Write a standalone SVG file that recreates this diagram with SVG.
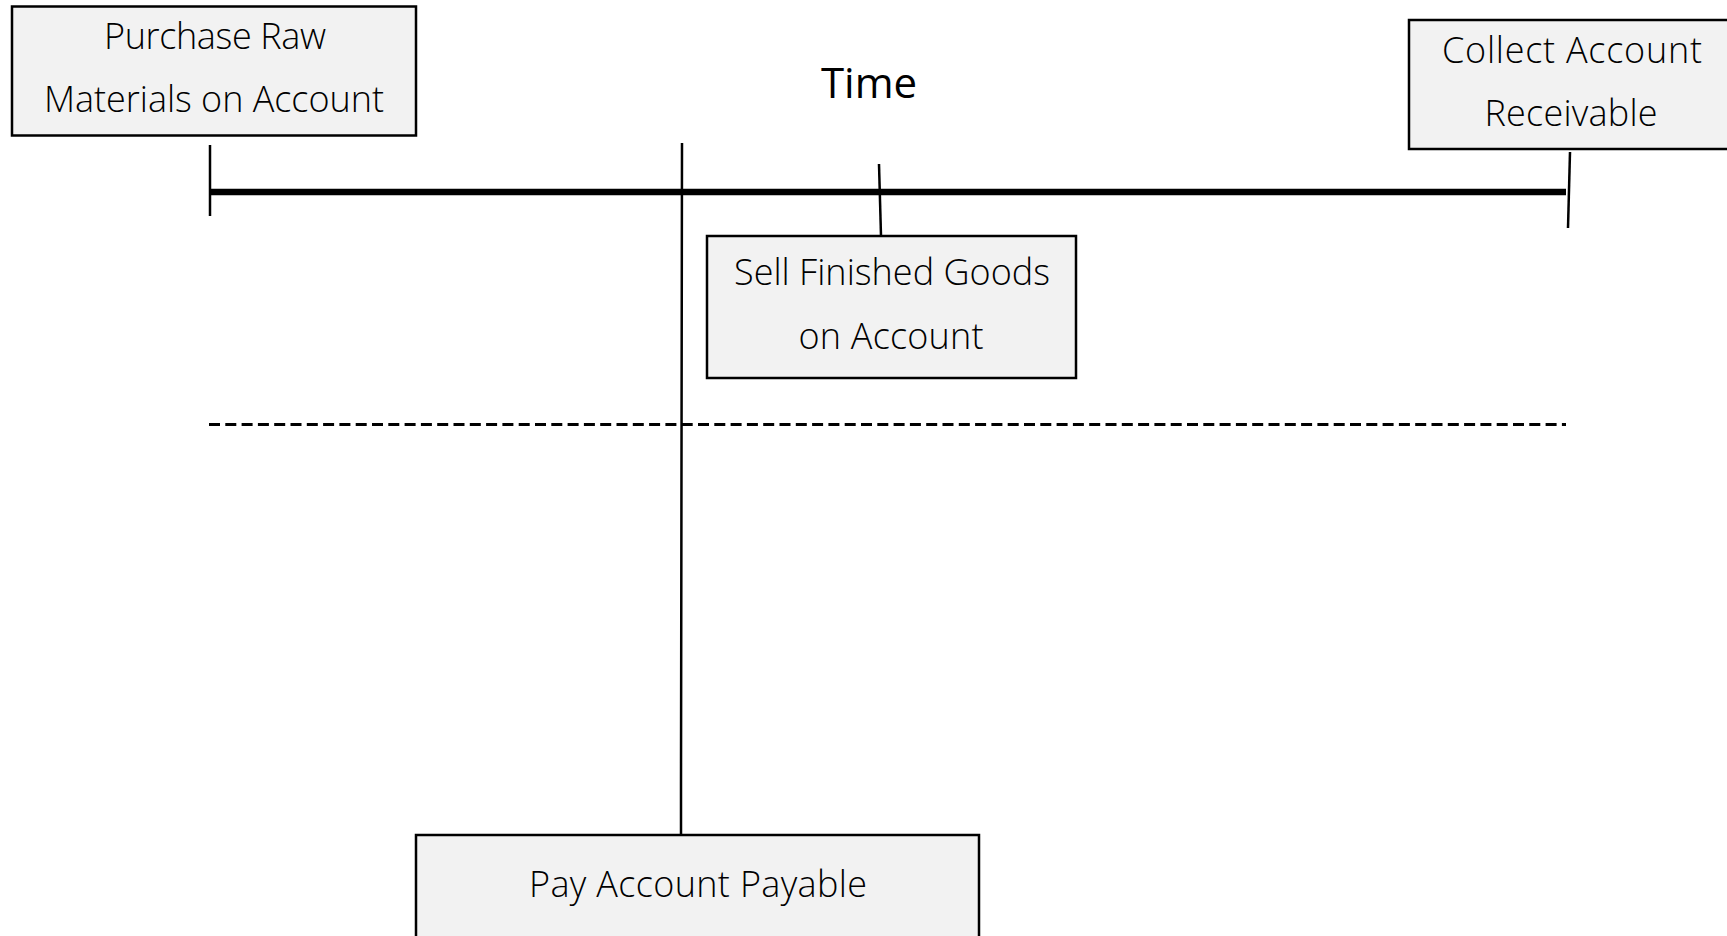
<svg xmlns="http://www.w3.org/2000/svg" width="1727" height="936" viewBox="0 0 1727 936">
<style>
.box{fill:#f2f2f2;stroke:#000;stroke-width:2.5}
.lbl{font-family:"Open Sans","Noto Sans","Liberation Sans",sans-serif;font-weight:300;font-size:36px;fill:#000;text-anchor:middle}
.title{font-family:"Open Sans","Noto Sans","Liberation Sans",sans-serif;font-weight:500;font-size:42px;fill:#000;text-anchor:middle}
.thin{stroke:#000;stroke-width:2.5;fill:none}
</style>
<rect width="1727" height="936" fill="#fff"/>
<g id="connectors">
<line x1="209" y1="192" x2="1566" y2="192" stroke="#000" stroke-width="6.5"/>
<line class="thin" x1="210" y1="145" x2="210" y2="216"/>
<line class="thin" x1="1570" y1="152" x2="1568" y2="228"/>
<line class="thin" x1="879" y1="164" x2="881" y2="236"/>
<line x1="209" y1="424.5" x2="1566" y2="424.5" stroke="#000" stroke-width="3" stroke-dasharray="11 5.3"/>
<polyline class="thin" stroke-width="3" points="682,143 681,782 681,835"/>
</g>
<text class="title" x="869" y="98">Time</text>
<g id="purchase">
<rect class="box" x="12" y="6.5" width="404" height="129"/>
<text class="lbl" x="215" y="49" textLength="222">Purchase Raw</text>
<text class="lbl" x="214" y="112" textLength="340">Materials on Account</text>
</g>
<g id="collect">
<rect class="box" x="1409" y="20" width="320" height="129"/>
<text class="lbl" x="1572" y="63" textLength="260">Collect Account</text>
<text class="lbl" x="1571" y="126" textLength="173">Receivable</text>
</g>
<g id="sell">
<rect class="box" x="707" y="236" width="369" height="142"/>
<text class="lbl" x="892" y="285" textLength="316">Sell Finished Goods</text>
<text class="lbl" x="891" y="349" textLength="185">on Account</text>
</g>
<g id="pay">
<rect class="box" x="416" y="835" width="563" height="120"/>
<text class="lbl" x="698" y="897" textLength="338">Pay Account Payable</text>
</g>
</svg>
